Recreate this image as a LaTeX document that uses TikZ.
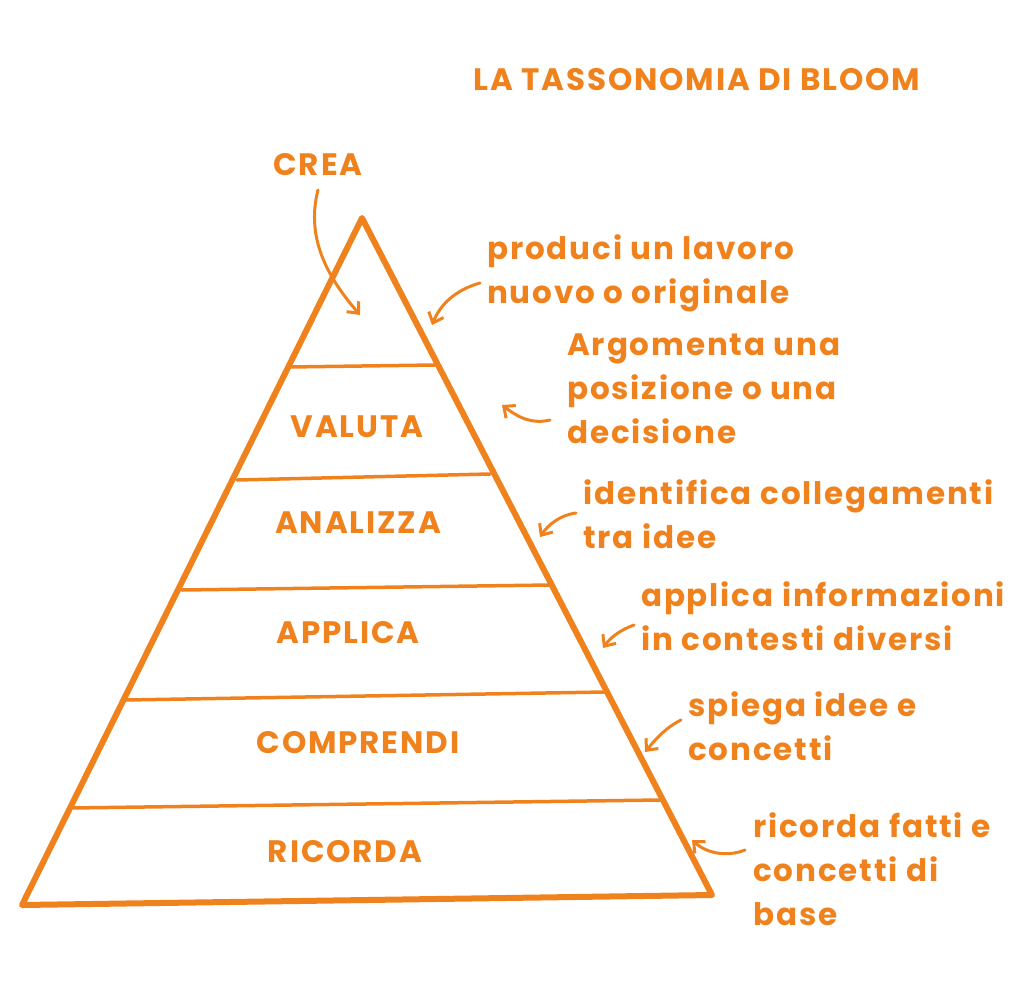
\documentclass[tikz,border=0pt]{standalone}
\usepackage{fontspec}
\setmainfont{Poppins}[LetterSpace=6]
\usetikzlibrary{arrows.meta}
\definecolor{org}{HTML}{F0821E}
\tikzset{
 lbl/.style={text=org,font=\fontsize{31}{44}\selectfont\bfseries,inner sep=0pt},
 side/.style={lbl,anchor=north west,align=left},
 arr/.style={draw=org,line width=3pt,line cap=round,-{Straight Barb[length=9pt,width=16pt]}},
 band/.style={draw=org,line width=3.5pt,line cap=round}
}
\begin{document}
\begin{tikzpicture}[x=1pt,y=-1pt]
\useasboundingbox (0,0) rectangle (1024,982);
\coordinate (apex) at (362,218);
\coordinate (bl) at (22,905);
\coordinate (br) at (712,895);
\draw[org,line width=6pt,line join=round] (apex) -- (br) -- (bl) -- cycle;
\draw[band] (288,367) -- (435,365);
\draw[band] (237,480) -- (490,474);
\draw[band] (182,590) -- (550,585);
\draw[band] (125,700) -- (605,692);
\draw[band] (70,808) -- (660,800);
\node[lbl] (title) at (697,80) {LA TASSONOMIA DI BLOOM};
\node[lbl] (crea) at (318,165) {CREA};
\node[lbl] (valuta) at (357,427) {VALUTA};
\node[lbl] (analizza) at (358,523) {ANALIZZA};
\node[lbl] (applica) at (348,633) {APPLICA};
\node[lbl] (comprendi) at (358,743) {COMPRENDI};
\node[lbl] (ricorda) at (345,852) {RICORDA};
\node[side] (t1) at (487,234) {produci un lavoro\\nuovo o originale};
\node[side] (t2) at (567,334) {Argomenta una\\posizione o una\\decisione};
\node[side] (t3) at (583,479) {identifica collegamenti\\tra idee};
\node[side] (t4) at (641,581) {applica informazioni\\in contesti diversi};
\node[side] (t5) at (688,691) {spiega idee e\\concetti};
\node[side] (t6) at (753,812) {ricorda fatti e\\concetti di\\base};
\coordinate (e0) at (360,315);
\coordinate (e1) at (432,325);
\coordinate (e2) at (502,405);
\coordinate (e3) at (540,537);
\coordinate (e4) at (603,648);
\coordinate (e5) at (645,752);
\coordinate (e6) at (692,840);
\draw[arr] (318,190) .. controls (305,240) and (330,280) .. (e0);
\draw[arr] (480,283) .. controls (455,290) and (440,305) .. (e1);
\draw[arr] (550,420) .. controls (530,425) and (515,415) .. (e2);
\draw[arr] (576,513) .. controls (560,515) and (548,525) .. (e3);
\draw[arr] (634,625) .. controls (620,630) and (610,638) .. (e4);
\draw[arr] (681,720) .. controls (665,728) and (655,740) .. (e5);
\draw[arr] (745,850) .. controls (725,858) and (705,852) .. (e6);
\end{tikzpicture}
\end{document}
